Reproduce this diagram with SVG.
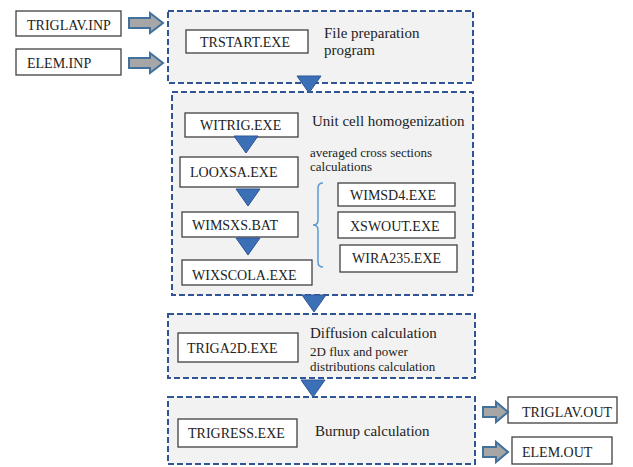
<svg xmlns="http://www.w3.org/2000/svg" width="633" height="467" viewBox="0 0 633 467">
<style>
.grp{fill:#f2f2f2;stroke:#2f5597;stroke-width:2;stroke-dasharray:6 3}
.box{fill:#fff;stroke:#404040;stroke-width:1.3}
.t{font-family:"Liberation Serif","Times New Roman",serif;fill:#222}
.b{font-size:14px}
.h{font-size:15px}
.s{font-size:13px}
.tri{fill:#3b6fb6;stroke:#2f5597;stroke-width:1}
.ga{fill:#a6a6a6;stroke:#41719c;stroke-width:2;stroke-linejoin:miter}
.brace{fill:none;stroke:#5b9bd5;stroke-width:1.5}
</style>
<defs>
<path id="tri" d="M-12,0 L12,0 L0,17 Z"/>
</defs>
<rect width="633" height="467" fill="#fff"/>
<g font-family="Liberation Serif, serif">
<g id="group1">
<rect class="grp" x="168" y="11" width="305" height="72"/>
<text class="t h" x="324" y="38">File preparation</text>
<text class="t h" x="324" y="55">program</text>
</g>
<g id="group2">
<rect class="grp" x="172" y="92" width="301" height="203"/>
<text class="t h" x="312" y="126">Unit cell homogenization</text>
<text class="t s" x="310" y="157">averaged cross sections</text>
<text class="t s" x="310" y="171">calculations</text>
</g>
<g id="group3">
<rect class="grp" x="168" y="314" width="307" height="64"/>
<text class="t h" x="310" y="338">Diffusion calculation</text>
<text class="t s" x="310" y="356">2D flux and power</text>
<text class="t s" x="310" y="371">distributions calculation</text>
</g>
<g id="group4">
<rect class="grp" x="168" y="397" width="307" height="67"/>
<text class="t h" x="315" y="436">Burnup calculation</text>
</g>

<g id="triglav-inp"><rect class="box" x="16" y="11" width="105" height="25"/><text class="t b" x="27" y="30">TRIGLAV.INP</text></g>
<g id="elem-inp"><rect class="box" x="16" y="49" width="105" height="26"/><text class="t b" x="27" y="68">ELEM.INP</text></g>
<g id="trstart"><rect class="box" x="186" y="30" width="122" height="23"/><text class="t b" x="200" y="47">TRSTART.EXE</text></g>
<g id="witrig"><rect class="box" x="185" y="113" width="113" height="24"/><text class="t b" x="200" y="130">WITRIG.EXE</text></g>
<g id="looxsa"><rect class="box" x="180" y="157" width="118" height="30"/><text class="t b" x="190" y="177">LOOXSA.EXE</text></g>
<g id="wimsxs"><rect class="box" x="182" y="212" width="116" height="25"/><text class="t b" x="192" y="230">WIMSXS.BAT</text></g>
<g id="wixscola"><rect class="box" x="182" y="260" width="130" height="25"/><text class="t b" x="192" y="280">WIXSCOLA.EXE</text></g>
<g id="wimsd4"><rect class="box" x="338" y="183" width="117" height="23"/><text class="t b" x="350" y="200">WIMSD4.EXE</text></g>
<g id="xswout"><rect class="box" x="338" y="212" width="117" height="26"/><text class="t b" x="350" y="231">XSWOUT.EXE</text></g>
<g id="wira235"><rect class="box" x="340" y="245" width="117" height="27"/><text class="t b" x="352" y="263">WIRA235.EXE</text></g>
<g id="triga2d"><rect class="box" x="178" y="333" width="120" height="29"/><text class="t b" x="187" y="353">TRIGA2D.EXE</text></g>
<g id="trigress"><rect class="box" x="178" y="419" width="119" height="28"/><text class="t b" x="188" y="438">TRIGRESS.EXE</text></g>
<g id="triglav-out"><rect class="box" x="508" y="397" width="109" height="26"/><text class="t b" x="522" y="417">TRIGLAV.OUT</text></g>
<g id="elem-out"><rect class="box" x="512" y="437" width="100" height="27"/><text class="t b" x="522" y="457">ELEM.OUT</text></g>
</g>
<g id="connectors">
<path class="ga" d="M129,18 H150 V13 L163,23 L150,33 V28 H129 Z"/>
<path class="ga" d="M129,58 H150 V53 L163,63 L150,73 V68 H129 Z"/>
<path class="ga" d="M483,407 H496 V402 L508,412 L496,422 V417 H483 Z"/>
<path class="ga" d="M483,447 H496 V442 L508,452 L496,462 V457 H483 Z"/>
<use href="#tri" class="tri" x="309" y="76"/>
<use href="#tri" class="tri" x="246" y="136"/>
<use href="#tri" class="tri" x="248" y="189"/>
<use href="#tri" class="tri" x="248" y="238"/>
<use href="#tri" class="tri" x="314" y="295"/>
<use href="#tri" class="tri" x="313" y="380"/>
<path class="brace" d="M323,183 Q318,183 318,188 V220 Q318,225 313,225 Q318,225 318,230 V262 Q318,267 323,267"/>
</g>
</svg>
